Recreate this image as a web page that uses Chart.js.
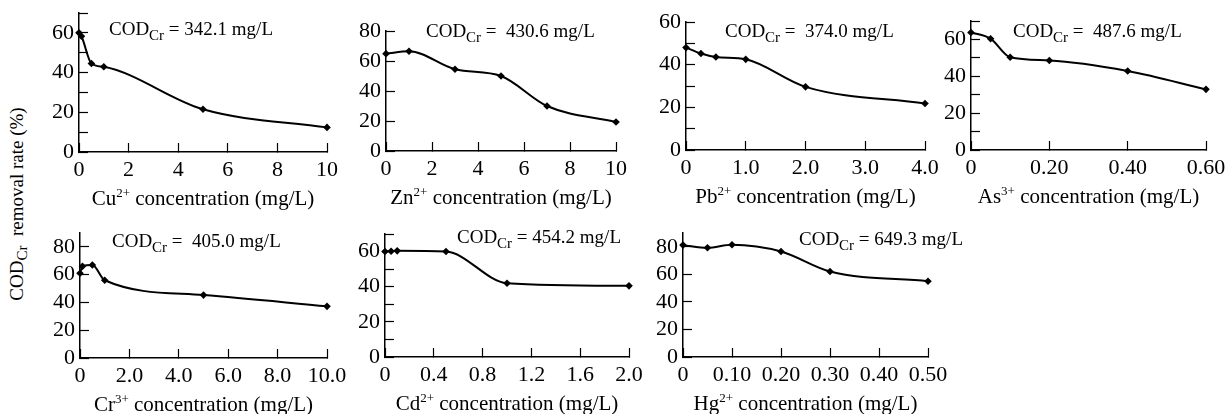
<!DOCTYPE html>
<html>
<head>
<meta charset="utf-8">
<script src="https://cdn.jsdelivr.net/npm/chart.js@4.4.1/dist/chart.umd.min.js"></script>
<style>
  html, body { margin: 0; padding: 0; background: #fff; overflow: hidden; }
  body { width: 1225px; height: 414px; position: relative; }
  .panel { position: absolute; }
  #ytitle {
    position: absolute; left: 18px; top: 204px;
    transform: translate(-50%, -50%) rotate(-90deg);
    white-space: nowrap; font: 19px 'Liberation Serif', 'Times New Roman', serif; color: #000;
  }
  #ytitle sub { font-size: 15px; vertical-align: -4px; }
</style>
</head>
<body>
<div id="ytitle">COD<sub>Cr</sub>&nbsp; removal rate (%)</div>
<script>
// concentrations (mg/L) and COD_Cr removal rates (%)
const cuConc = [0, 0.1, 0.5, 1, 5, 10];
const cuRemoval = [60, 58.3, 44.6, 42.9, 21.5, 12.4];
const znConc = [0, 1, 3, 5, 7, 10];
const znRemoval = [64.9, 66.5, 54.5, 50, 30, 19.3];
const pbConc = [0, 0.25, 0.5, 1, 2, 4];
const pbRemoval = [48, 45.2, 43.6, 42.5, 29.6, 21.8];
const asConc = [0, 0.05, 0.1, 0.2, 0.4, 0.6];
const asRemoval = [63.8, 60.4, 50.3, 48.6, 42.9, 32.9];
const crConc = [0, 0.1, 0.5, 1, 5, 10];
const crRemoval = [61, 66, 67, 56, 45.3, 37.2];
const cdConc = [0, 0.05, 0.1, 0.5, 1, 2];
const cdRemoval = [60, 60.2, 60.4, 60, 42, 40.5];
const hgConc = [0, 0.05, 0.1, 0.2, 0.3, 0.5];
const hgRemoval = [81.2, 79.3, 81.5, 76.6, 62.1, 55];

// x tick labels
const cuTicks = ['0', '2', '4', '6', '8', '10'];
const znTicks = ['0', '2', '4', '6', '8', '10'];
const pbTicks = ['0', '1.0', '2.0', '3.0', '4.0'];
const asTicks = ['0', '0.20', '0.40', '0.60'];
const crTicks = ['0', '2.0', '4.0', '6.0', '8.0', '10.0'];
const cdTicks = ['0', '0.4', '0.8', '1.2', '1.6', '2.0'];
const hgTicks = ['0', '0.10', '0.20', '0.30', '0.40', '0.50'];

// initial COD_Cr of each test
const codText = [' = 342.1 mg/L', ' =  430.6 mg/L', ' =  374.0 mg/L', ' =  487.6 mg/L',
                 ' =  405.0 mg/L', ' = 454.2 mg/L', ' = 649.3 mg/L'];

const FONT = "'Liberation Serif', 'Times New Roman', serif";
Chart.defaults.font.family = FONT;
Chart.defaults.color = '#000';

const panels = [
  { ion: 'Cu', charge: '2+', conc: cuConc, removal: cuRemoval, xMax: 10, xStep: 2, xTicks: cuTicks,
    yMax: 70, yStep: 10, cod: codText[0], box: [79, 327, 13, 152], note: [30, 22] },
  { ion: 'Zn', charge: '2+', conc: znConc, removal: znRemoval, xMax: 10, xStep: 2, xTicks: znTicks,
    yMax: 80, yStep: 20, cod: codText[1], box: [386, 616, 31, 151], note: [40, 6] },
  { ion: 'Pb', charge: '2+', conc: pbConc, removal: pbRemoval, xMax: 4, xStep: 1, xTicks: pbTicks,
    yMax: 60, yStep: 10, cod: codText[2], box: [686, 925, 22, 150], note: [39, 15] },
  { ion: 'As', charge: '3+', conc: asConc, removal: asRemoval, xMax: 0.6, xStep: 0.2, xTicks: asTicks,
    yMax: 70, yStep: 10, cod: codText[3], box: [971, 1206, 21, 150], note: [42, 16] },
  { ion: 'Cr', charge: '3+', conc: crConc, removal: crRemoval, xMax: 10, xStep: 2, xTicks: crTicks,
    yMax: 90, yStep: 20, cod: codText[4], box: [80, 327, 233, 358], note: [32, 14] },
  { ion: 'Cd', charge: '2+', conc: cdConc, removal: cdRemoval, xMax: 2, xStep: 0.4, xTicks: cdTicks,
    yMax: 70, yStep: 10, cod: codText[5], box: [385, 629, 234, 357], note: [72, 9] },
  { ion: 'Hg', charge: '2+', conc: hgConc, removal: hgRemoval, xMax: 0.5, xStep: 0.1, xTicks: hgTicks,
    yMax: 90, yStep: 20, cod: codText[6], box: [683, 928, 233, 357], note: [116, 12] },
];

// draw a run of text pieces (normal / sub / sup) on one baseline
function drawRich(ctx, parts, x, y, align) {
  let total = 0;
  parts.forEach(q => { ctx.font = q.s + 'px ' + FONT; q.w = ctx.measureText(q.t).width; total += q.w; });
  let cx = align === 'center' ? x - total / 2 : x;
  ctx.textAlign = 'left';
  ctx.textBaseline = 'alphabetic';
  ctx.fillStyle = '#000';
  parts.forEach(q => {
    ctx.font = q.s + 'px ' + FONT;
    ctx.fillText(q.t, cx, y + (q.dy || 0));
    cx += q.w;
  });
}

// T must cover the y scale's own top padding (half a label + tick padding)
const L = 50, T = 32, R = 40, B = 62, XH = 34;

// tick marks pointing into the plot (negative tick length), no grid lines
const inwardGrid = {
  display: true, drawOnChartArea: false, drawTicks: true,
  tickLength: -9, tickColor: '#000', tickWidth: 1.2,
};

function makePanel(p) {
  const [x0, x1, yTop, yBottom] = p.box;
  const w = L + (x1 - x0) + R;
  const h = T + (yBottom - yTop) + B;
  const div = document.createElement('div');
  div.className = 'panel';
  div.style.left = (x0 - L) + 'px';
  div.style.top = (yTop - T) + 'px';
  const canvas = document.createElement('canvas');
  canvas.width = w; canvas.height = h;
  canvas.style.width = w + 'px'; canvas.style.height = h + 'px';
  div.appendChild(canvas);
  document.body.appendChild(div);

  // y ticks every yStep up to the axis top
  const yValues = [];
  for (let v = 0; v <= p.yMax; v += p.yStep) yValues.push(v);

  new Chart(canvas.getContext('2d'), {
    type: 'line',
    data: {
      datasets: [{
        data: p.conc.map((c, i) => ({ x: c, y: p.removal[i] })),
        borderColor: '#000',
        borderWidth: 2,
        pointStyle: 'rectRot',
        pointRadius: 3.8,
        pointBackgroundColor: '#000',
        pointBorderWidth: 0,
        cubicInterpolationMode: 'monotone',
        fill: false,
        clip: false,
      }],
    },
    options: {
      responsive: false,
      animation: false,
      layout: { padding: { left: 0, top: T, right: R, bottom: B - XH } },
      plugins: { legend: { display: false }, tooltip: { enabled: false } },
      scales: {
        x: {
          type: 'linear', min: 0, max: p.xMax,
          grid: inwardGrid,
          border: { color: '#000', width: 1.5 },
          ticks: {
            stepSize: p.xStep, autoSkip: false, maxRotation: 0, padding: 14,
            font: { size: 22 }, color: '#000',
            callback: (v, i) => p.xTicks[i] ?? '',
          },
          afterFit: s => { s.height = XH; },
        },
        y: {
          min: 0, max: p.yMax,
          grid: inwardGrid,
          border: { color: '#000', width: 1.5 },
          ticks: {
            autoSkip: false, padding: 14, font: { size: 22 }, color: '#000',
            callback: v => (v % 20 === 0 ? String(v) : ''),
          },
          afterBuildTicks: s => { s.ticks = yValues.map(v => ({ value: v })); },
          afterFit: s => { s.width = L; },
        },
      },
    },
    plugins: [{
      id: 'panelText',
      afterDraw(chart) {
        const ctx = chart.ctx, a = chart.chartArea;
        ctx.save();
        drawRich(ctx, [{ t: p.ion, s: 21 }, { t: p.charge, s: 13, dy: -8 }, { t: ' concentration (mg/L)', s: 21 }],
          (a.left + a.right) / 2, a.bottom + 53, 'center');
        drawRich(ctx, [{ t: 'COD', s: 19 }, { t: 'Cr', s: 15, dy: 5 }, { t: p.cod, s: 19 }],
          a.left + p.note[0], a.top + p.note[1], 'left');
        ctx.restore();
      },
    }],
  });
}

panels.forEach(makePanel);
</script>
</body>
</html>
